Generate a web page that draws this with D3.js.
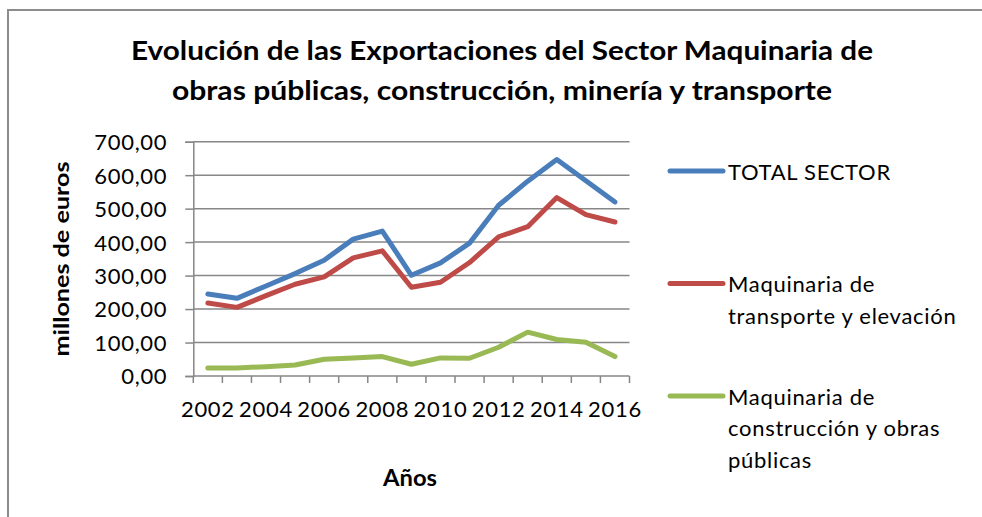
<!DOCTYPE html>
<html>
<head>
<meta charset="UTF-8">
<title>Exportaciones Sector Maquinaria</title>
<script src="https://d3js.org/d3.v7.min.js"></script>
<style>
	body { margin: 0; background: #fff; }
	text { font-family: Lato, "Open Sans", sans-serif; fill: #000; }
</style>
</head>
<body>
	<svg id="chart" width="982" height="517"></svg>
	<script type="text/javascript">
		// datos (millones de euros)
		var years = [2002, 2003, 2004, 2005, 2006, 2007, 2008, 2009, 2010, 2011, 2012, 2013, 2014, 2015, 2016];
		var yearLabels = [2002, 2004, 2006, 2008, 2010, 2012, 2014, 2016];
		var totalSector = [245, 232, 269, 306, 346, 409, 433, 301, 338, 397, 510, 582, 647, 583, 520];
		var transporteElevacion = [218, 205, 240, 274, 296, 353, 374, 265, 280, 339, 416, 446, 533, 482, 460];
		var construccionObras = [24, 24, 28, 33, 50, 54, 58, 35, 54, 53, 86, 131, 109, 101, 58];
		var yTicks = [0, 100, 200, 300, 400, 500, 600, 700];

		var seriesNames = ["TOTAL SECTOR", "Maquinaria de|transporte y elevación", "Maquinaria de|construcción y obras|públicas"];
		var seriesColors = ["#4a7ebb", "#be4b48", "#98b954"];
		var seriesValues = [totalSector, transporteElevacion, construccionObras];

		var svg = d3.select("#chart");

		// marco exterior
		svg.append("rect")
			.attr("x", 8).attr("y", 10)
			.attr("width", 990).attr("height", 530)
			.attr("fill", "none").attr("stroke", "#8c8c8c").attr("stroke-width", 2);

		var plotLeft = 193.3, plotRight = 629.5, plotTop = 141.7, plotBottom = 376;

		var x = d3.scaleBand().domain(years).range([plotLeft, plotRight]).padding(0);
		var y = d3.scaleLinear().domain([0, 700]).range([plotBottom, plotTop]);

		// título
		var title = svg.append("text")
			.attr("text-anchor", "middle")
			.style("font-weight", "bold")
			.style("font-size", "27px");
		title.append("tspan").attr("x", 502).attr("y", 59.5)
			.attr("textLength", 742).attr("lengthAdjust", "spacingAndGlyphs")
			.text("Evolución de las Exportaciones del Sector Maquinaria de");
		title.append("tspan").attr("x", 502).attr("y", 100)
			.attr("textLength", 660).attr("lengthAdjust", "spacingAndGlyphs")
			.text("obras públicas, construcción, minería y transporte");

		// líneas de cuadrícula
		svg.append("g").selectAll("line")
			.data(yTicks)
			.enter().append("line")
			.attr("x1", plotLeft).attr("x2", plotRight)
			.attr("y1", function(d) { return y(d); })
			.attr("y2", function(d) { return y(d); })
			.attr("stroke", "#878787").attr("stroke-width", 1.5);

		// eje Y
		var yAxis = svg.append("g")
			.attr("transform", "translate(" + plotLeft + ",0)")
			.call(d3.axisLeft(y).tickValues(yTicks).tickSize(8).tickPadding(18)
				.tickFormat(function(d) { return d.toFixed(2).replace(".", ","); }));
		yAxis.select(".domain").attr("stroke", "#878787").attr("stroke-width", 1.5);
		yAxis.selectAll(".tick line").attr("stroke", "#878787").attr("stroke-width", 1.5);
		yAxis.selectAll(".tick text")
			.style("font-size", "22px").style("letter-spacing", "0.7px")
			.attr("fill", "#000").attr("dy", "0.36em");

		// eje X: marcas entre categorías
		var xBounds = years.map(function(d) { return x(d); }).concat([x(years[years.length - 1]) + x.bandwidth()]);
		svg.append("g").selectAll("line")
			.data(xBounds)
			.enter().append("line")
			.attr("x1", function(d) { return d; }).attr("x2", function(d) { return d; })
			.attr("y1", plotBottom).attr("y2", plotBottom + 7)
			.attr("stroke", "#878787").attr("stroke-width", 1.5);

		var xAxis = svg.append("g")
			.attr("transform", "translate(0," + plotBottom + ")")
			.call(d3.axisBottom(x).tickValues(yearLabels).tickSize(0).tickPadding(25));
		xAxis.select(".domain").remove();
		xAxis.selectAll(".tick text")
			.style("font-size", "22px").style("letter-spacing", "0.7px")
			.attr("fill", "#000");

		// títulos de los ejes
		svg.append("text")
			.attr("x", 410).attr("y", 486)
			.attr("text-anchor", "middle")
			.attr("textLength", 54).attr("lengthAdjust", "spacingAndGlyphs")
			.style("font-weight", "bold").style("font-size", "22px")
			.text("Años");

		svg.append("text")
			.attr("transform", "translate(68.5,259) rotate(-90)")
			.attr("text-anchor", "middle")
			.attr("textLength", 195).attr("lengthAdjust", "spacingAndGlyphs")
			.style("font-weight", "bold").style("font-size", "21px")
			.text("millones de euros");

		// series
		var line = d3.line()
			.x(function(d, i) { return x(years[i]) + x.bandwidth() / 2; })
			.y(function(d) { return y(d); });

		svg.append("g").selectAll("path")
			.data(seriesValues)
			.enter().append("path")
			.attr("d", line)
			.attr("fill", "none")
			.attr("stroke", function(d, i) { return seriesColors[i]; })
			.attr("stroke-width", 5)
			.attr("stroke-linejoin", "round")
			.attr("stroke-linecap", "round");

		// leyenda
		var legendY = [171, 283.5, 396];
		var legend = svg.append("g").selectAll("g")
			.data(seriesNames)
			.enter().append("g")
			.attr("transform", function(d, i) { return "translate(0," + legendY[i] + ")"; });

		legend.append("line")
			.attr("x1", 670).attr("x2", 723)
			.attr("stroke", function(d, i) { return seriesColors[i]; })
			.attr("stroke-width", 5)
			.attr("stroke-linecap", "round");

		legend.append("text")
			.style("font-size", "22px").style("letter-spacing", "0.7px")
			.each(function(d) {
				var t = d3.select(this);
				d.split("|").forEach(function(s, k) {
					t.append("tspan").attr("x", 728).attr("y", 8.5 + k * 31.5).text(s);
				});
			});
	</script>
</body>
</html>
